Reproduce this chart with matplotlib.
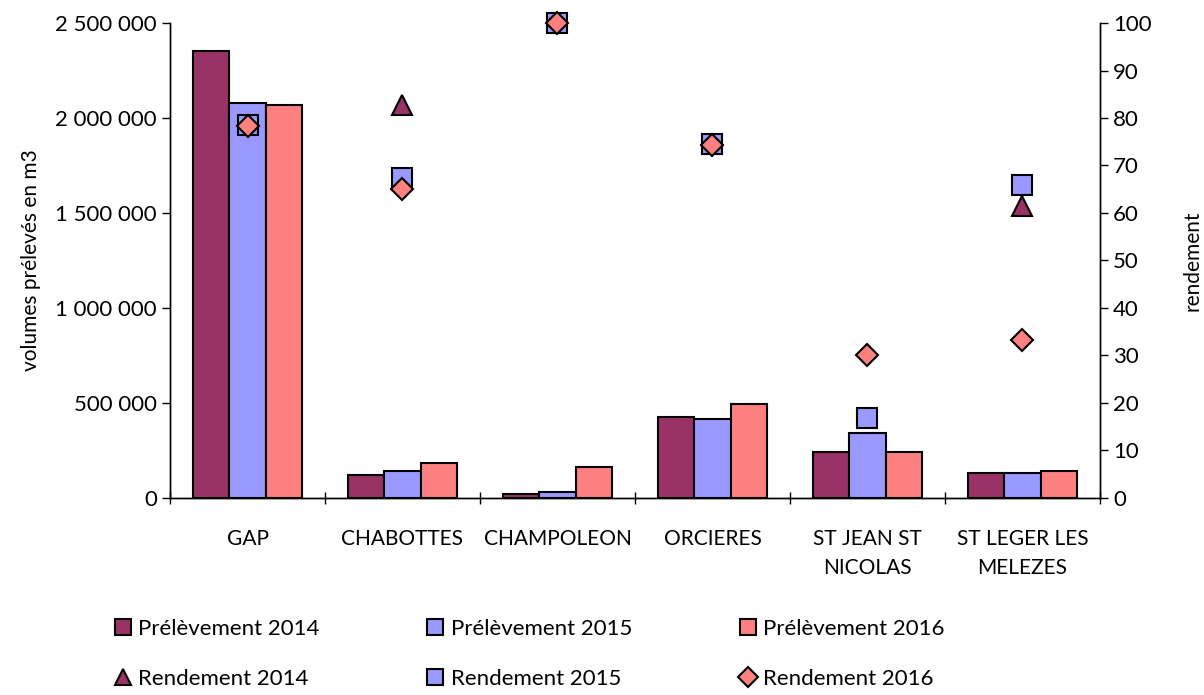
import matplotlib.pyplot as plt
import numpy as np
from matplotlib.lines import Line2D
from matplotlib.ticker import FuncFormatter, FixedLocator

plt.rcParams["font.family"] = ["Lato", "DejaVu Sans"]

categories = ["GAP", "CHABOTTES", "CHAMPOLEON", "ORCIERES",
              "ST JEAN ST\nNICOLAS", "ST LEGER LES\nMELEZES"]

prelevement_2014 = [2353000, 121000, 21000, 428000, 240000, 130000]
prelevement_2015 = [2079000, 142000, 33000, 416000, 340000, 130000]
prelevement_2016 = [2068000, 186000, 165000, 493000, 240000, 144000]

rendement_2014 = [np.nan, 82.7, np.nan, np.nan, np.nan, 61.5]
rendement_2015 = [78.5, 67.4, 100.0, 74.5, 16.8, 65.8]
rendement_2016 = [78.3, 65.0, 100.0, 74.3, 30.1, 33.3]

c14 = "#993366"
c15 = "#9999FF"
c16 = "#FF8080"

fig = plt.figure(figsize=(12.04, 6.95), dpi=100)
ax = fig.add_axes([0.1412, 0.2835, 0.7724, 0.6834])
ax2 = ax.twinx()

x = np.arange(len(categories))
w = 0.233
for off, vals, col in [(-w, prelevement_2014, c14), (0, prelevement_2015, c15),
                       (w, prelevement_2016, c16)]:
    ax.bar(x + off, vals, width=w, color=col, edgecolor="black", linewidth=1.5)

ms = 14
ax2.plot(x, rendement_2014, ls="none", marker="^", ms=ms, mfc=c14, mec="black",
         mew=1.5, clip_on=False)
ax2.plot(x, rendement_2015, ls="none", marker="s", ms=ms, mfc=c15, mec="black",
         mew=1.5, clip_on=False)
ax2.plot(x, rendement_2016, ls="none", marker="D", ms=ms * 0.8, mfc=c16, mec="black",
         mew=1.5, clip_on=False)

ax.set_xlim(-0.5, len(categories) - 0.5)
ax.set_ylim(0, 2500000)
ax2.set_ylim(0, 100)

ax.set_yticks(np.arange(0, 2500001, 500000))
ax.yaxis.set_major_formatter(FuncFormatter(lambda v, p: f"{int(v):,}".replace(",", " ")))
ax2.set_yticks(np.arange(0, 101, 10))

ax.set_xticks(x)
ax.set_xticklabels(categories, fontsize=15, linespacing=1.6)
ax.tick_params(axis="x", which="major", length=0, pad=22)
ax.xaxis.set_minor_locator(FixedLocator(np.arange(-0.5, len(categories), 1)))
ax.tick_params(axis="x", which="minor", length=8, direction="inout", width=1)

ax.tick_params(axis="y", labelsize=16, length=6, width=1)
ax2.tick_params(axis="y", labelsize=16, length=6, width=1)

for a in (ax, ax2):
    a.spines["top"].set_visible(False)
    for s in a.spines.values():
        s.set_linewidth(1)

ax.set_ylabel("volumes prélevés en m3", fontsize=15, labelpad=10)
ax2.set_ylabel("rendement", fontsize=15, labelpad=22)

handles = [
    Line2D([], [], ls="none", marker="s", ms=11, mfc=c14, mec="black", mew=1.5),
    Line2D([], [], ls="none", marker="^", ms=12, mfc=c14, mec="black", mew=1.5),
    Line2D([], [], ls="none", marker="s", ms=11, mfc=c15, mec="black", mew=1.5),
    Line2D([], [], ls="none", marker="s", ms=11, mfc=c15, mec="black", mew=1.5),
    Line2D([], [], ls="none", marker="s", ms=11, mfc=c16, mec="black", mew=1.5),
    Line2D([], [], ls="none", marker="D", ms=10, mfc=c16, mec="black", mew=1.5),
]
labels = ["Prélèvement 2014", "Rendement 2014", "Prélèvement 2015",
          "Rendement 2015", "Prélèvement 2016", "Rendement 2016"]
fig.legend(handles, labels, ncol=3, loc="lower left", bbox_to_anchor=(0.078, -0.02),
           frameon=False, fontsize=16, handlelength=0.8, handletextpad=0.3,
           columnspacing=4.8, labelspacing=1.35)

fig.savefig("out.png", dpi=100)
